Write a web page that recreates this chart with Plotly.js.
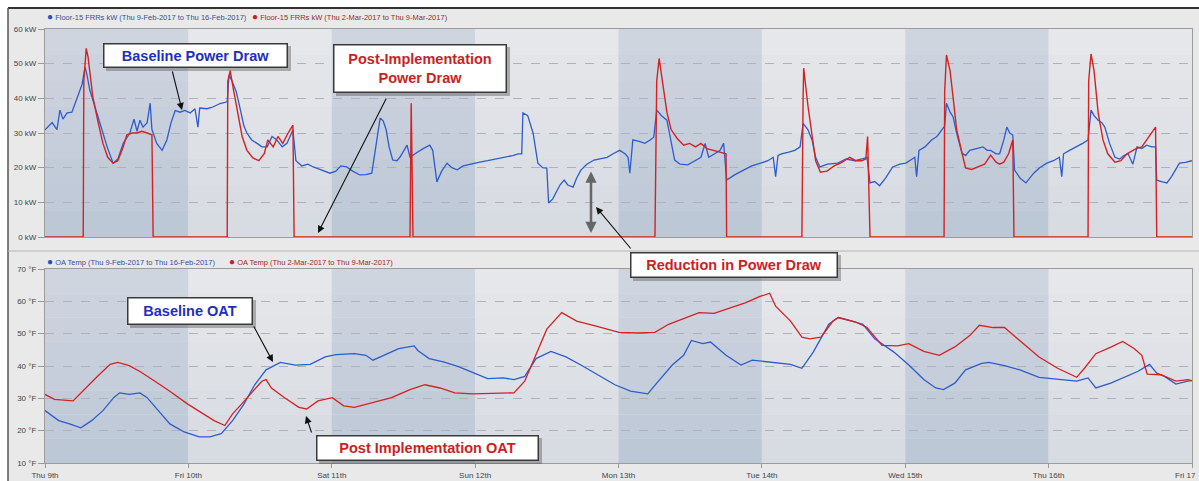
<!DOCTYPE html>
<html><head><meta charset="utf-8">
<script src="https://cdn.plot.ly/plotly-3.0.1.min.js"></script>
<style>html,body{margin:0;padding:0;background:#fff}#chart{width:1199px;height:481px}</style>
</head><body><div id="chart"></div>
<script>
// ---- data (x = hours since Thu 9th 00:00) ----
const dayTicks = [0,24,48,72,96,120,144,168,192];
const dayLabels = ["Thu 9th","Fri 10th","Sat 11th","Sun 12th","Mon 13th","Tue 14th","Wed 15th","Thu 16th","Fri 17"];
const kwTicks = [0,10,20,30,40,50,60];
const kwLabels = ["0 kW","10 kW","20 kW","30 kW","40 kW","50 kW","60 kW"];
const fTicks = [10,20,30,40,50,60,70];
const fLabels = ["10 °F","20 °F","30 °F","40 °F","50 °F","60 °F","70 °F"];

const baseKwHours = [0,1.2,2.0,2.5,3.0,3.7,4.5,5.5,6.2,6.7,7.0,7.5,8.4,9.2,10.4,11.4,12.2,13.1,14.2,14.9,15.4,15.9,16.4,17.1,17.6,17.9,18.7,19.6,20.4,21.1,21.8,22.6,23.4,24.3,25.1,25.6,25.9,27.1,28.1,29.3,30.5,30.8,31.3,32.0,32.6,33.3,33.8,34.6,35.5,36.3,37.2,38.0,38.8,39.7,40.5,41.0,41.5,42.0,43.0,44.0,44.9,46.0,46.9,47.7,48.7,49.5,50.5,51.5,52.7,53.7,54.7,55.4,56.1,56.6,57.1,57.6,58.2,58.9,59.4,60.1,60.6,61.1,61.6,62.4,63.3,64.4,64.9,65.6,66.4,67.3,68.1,69.0,70.0,71.1,72.8,74.1,75.6,77.0,78.3,79.2,79.8,80.0,80.8,81.7,82.5,83.3,84.0,84.3,85.0,85.5,86.2,86.9,87.5,88.4,89.0,89.7,90.7,91.9,92.9,94.1,95.1,96.2,97.1,97.6,97.9,98.4,99.6,100.4,101.3,101.9,102.4,103.2,104.1,104.8,105.4,106.3,107.6,108.8,109.8,110.5,111.1,112.1,113.0,113.6,114.1,115.5,117.0,118.3,119.8,121.0,121.9,122.3,122.7,123.3,124.5,125.5,126.4,126.9,127.7,128.4,129.0,129.7,131.0,132.7,134.1,135.6,136.7,137.6,138.1,138.9,139.7,140.7,141.9,143.1,144.1,145.1,145.6,145.9,146.3,147.3,148.4,149.3,150.1,150.6,150.9,151.5,152.0,152.6,153.5,154.1,154.8,156.0,157.0,157.7,158.3,159.2,159.8,160.5,161.0,161.5,162.0,162.3,163.2,164.2,164.8,165.5,166.5,167.7,168.8,169.8,170.2,170.5,171.5,172.7,173.7,174.6,175.1,175.6,176.3,176.9,177.4,178.2,179.1,179.9,180.6,181.3,182.1,182.8,183.6,184.4,185.3,185.9,186.1,186.9,187.8,188.6,189.3,189.9,190.9,192.0];
const baseKw = [30.9,33,31,36.6,34,35.8,36,40.4,44,49,47,42.4,37,32.8,26,21.3,22.5,27,30,34,30.5,33.7,31.7,33,38.6,31,27,25,28,33,36.5,36,36.5,35.8,37,31.7,37.2,37,37.5,38.5,39,46.7,45,42,37.5,32,30,28,27,26,26,29,28,26,27,29,30.9,22,20.5,21,20.2,19.5,19,18.4,19,20.5,20.2,19,17.9,18,18.4,27,34.3,33.5,31,26,22.2,22,23,25,26.5,23,23.5,24.5,25.5,26.5,25,15.9,19,21.3,20,19.4,20.5,21,21.6,22,22.5,23,23.5,24,24,35.8,35,30,21.3,20,19.9,9.8,11,12.7,15,16.4,15,14.4,17,19.3,21,22.2,22.5,23,24,25,24,23,18.4,28,27.5,27,28,28.8,36.6,35,33.7,28,22.2,21,20.8,22,23,27,23,24,25,27,16.4,18,19.3,20.5,21.3,22,23,17.4,23.5,24,24.5,25,26,32.8,31,28,23,20.2,21,21.3,22.5,22,22.5,23,15.6,16,14.8,17,20.2,21,21.3,22.5,23,17.4,25,26,28,29,30.9,32,38.6,36,34.7,30,24.2,23.5,25,25.5,26,25,25,24,24,28,31.7,30,29.4,19.3,17,15.6,17,18.4,20,21.3,22,23,17.4,24,25,26,27,28,36.6,35,33.7,33,31.7,27,23,22.5,23.5,24,21,26,25.5,26.5,26,26,16.4,16,15.6,17.5,19.5,21.3,21.5,22];

const postKwHours = [0,6.4,6.5,6.9,7.2,8.0,8.9,9.7,10.5,11.4,12.2,13.1,13.7,14.6,15.4,16.2,17.1,17.9,18.1,30.5,30.6,31.0,31.6,32.3,33.0,33.8,34.8,35.8,36.7,37.3,38.2,39.0,39.8,40.7,41.5,41.7,61.1,61.3,61.6,102.1,102.4,102.8,103.4,104.1,104.8,105.8,106.9,107.9,108.9,109.8,110.8,111.8,112.8,113.6,114.0,114.1,126.7,126.9,127.0,127.7,128.4,129.0,129.8,130.9,132.1,133.4,134.7,135.7,136.7,137.4,137.7,138.1,150.5,150.6,150.9,151.5,152.0,152.6,153.5,154.1,155.1,156.3,157.3,158.3,159.2,159.8,160.5,161.3,162.0,162.2,174.6,174.7,175.1,175.6,176.3,177.1,177.9,179.1,180.1,181.1,182.1,182.8,183.6,184.4,185.3,185.9,186.1,192];
const postKw = [0,0,45,54.4,52,40.5,33,27,23,21.3,22,26,29.5,30,30,30.5,30,29.5,0,0,45,48,42,35,29,25,22.8,22,24,28,26,29,27,30,32.3,0,0,38.6,0,0,45,51.5,44,36,31,28.5,26.5,27,26,27,25.5,25,24.5,24.2,24,0,0,40,48.7,38,28.8,22,18.7,19,20.5,21.5,23,22,22,22.5,29,0,0,42,52.5,48,40.4,31,24.2,19.9,19.5,20.2,21,23.6,21.6,21,21.6,24,28,0,0,45,52.8,48,35.7,28,24,21.6,22,24,25,25.6,26,28,30,31.7,0,0];

const baseOatHours = [0,2.3,4.1,6.0,7.8,9.7,11.5,12.5,14.1,15.9,17.1,19.0,20.9,23.3,25.8,27.6,29.5,31.4,33.3,35.1,37.0,39.4,41.9,44.4,46.9,48.7,51.8,53.7,54.9,56.7,59.2,61.8,62.4,64.3,66.7,69.2,71.7,74.1,76.7,78.5,80.3,82.2,84.7,87.2,89.7,92.1,93.7,95.4,98.0,100.9,102.4,105.0,106.9,108.2,110.1,111.4,114.0,116.5,118.4,121.6,124.8,126.7,128.6,131.2,132.8,135.1,136.9,138.9,142.1,144.6,147.1,149.1,150.4,152.3,154.1,156.8,158.0,160.6,163.2,166.4,169.5,172.7,174.6,175.9,178.4,181.0,182.9,184.9,186.1,187.4,189.3,191.3,192];
const baseOat = [26.2,23.1,22.1,20.9,23.1,26.2,30.2,31.7,31.2,31.7,30.2,26.2,22.1,19.6,18.1,18.1,19.1,23.1,28.2,34.2,38.8,41.1,40.3,40.5,42.8,43.5,43.8,43.3,41.8,43.3,45.4,46.2,44.8,42.3,41.3,39.8,37.8,36.1,36.3,35.8,36.8,42.3,44.5,42.8,40.3,37.8,36,34.2,32.2,31.4,34.7,40.3,43.3,47.9,46.9,47.4,43.3,40.3,41.8,41.1,40.5,39.3,44.3,52.9,55,53.9,52.9,48.4,44.3,40.3,35.8,33.2,32.7,34.7,38.8,40.8,41.1,40.1,38.8,36.5,35.8,35.3,36.3,33.2,34.7,36.8,38.3,40.5,37.8,36.8,34.4,35.3,35.5];

const postOatHours = [0,1.6,4.7,6.0,8.5,10.9,12.2,14.1,15.9,18.4,20.9,23.9,26.4,28.3,30.1,31.4,32.9,34.8,36.3,37.0,37.9,40.1,42.5,43.8,45.7,48.1,50.0,51.8,54.9,58.0,61.1,63.6,66.1,68.6,71.6,78.5,80.3,82.2,84.0,86.5,89.0,92.1,94.6,96.1,99.2,102.1,104.4,106.9,109.5,112.0,114.6,117.2,119.7,121.3,122.3,124.8,126.7,128.0,129.9,131.9,132.8,135.7,137.6,140.1,142.7,144.6,147.1,149.7,152.3,154.8,156.4,158.7,160.6,163.2,166.4,169.5,172.7,174.0,175.9,178.5,180.4,182.3,183.6,184.5,186.8,189.3,191.3,192];
const postOat = [31.2,29.7,29.2,31.7,36.3,40.5,41.1,40.1,38.3,35.3,32.2,28.2,25.2,23.1,21.6,25.2,28.2,32.2,35.3,35.8,33.2,30.2,27.2,26.7,29.2,30.2,27.7,27.2,28.7,30.2,32.7,34.2,33.2,31.7,31.4,31.7,35.3,43.3,51.4,56.5,53.9,52.4,51,50.4,50.2,50.4,52.9,54.6,56.5,56.3,58,59.5,61.5,62.5,58.5,53.9,48.9,48.4,48.9,53.9,55,53.6,51.9,46.4,46.2,46.9,44.5,43.3,45.9,49.4,52.6,51.9,51.9,47.9,42.8,39.3,36.5,39.3,43.8,45.9,47.6,45.4,43.3,37.5,37.3,35.3,35.8,35.5];

// ---- layout helpers ----
const W = 1199, H = 481;
const px = x => x / W;
const py = y => 1 - y / H;
const FONT = "Liberation Sans, Arial, sans-serif";
const BLUE = "#2d5ccc", RED = "#d42222";

const traces = [
  {x: baseKwHours, y: baseKw, xaxis: "x", yaxis: "y", mode: "lines", line: {color: BLUE, width: 1.3}},
  {x: postKwHours, y: postKw, xaxis: "x", yaxis: "y", mode: "lines", line: {color: RED, width: 1.4}},
  {x: baseOatHours, y: baseOat, xaxis: "x2", yaxis: "y2", mode: "lines", line: {color: BLUE, width: 1.3}},
  {x: postOatHours, y: postOat, xaxis: "x2", yaxis: "y2", mode: "lines", line: {color: RED, width: 1.3}}
];

// background day bands with a vertical gradient
function mix(a, b, t) {
  const pa = a.match(/\w\w/g).map(h => parseInt(h, 16));
  const pb = b.match(/\w\w/g).map(h => parseInt(h, 16));
  return "rgb(" + pa.map((v, i) => Math.round(v + (pb[i] - v) * t)).join(",") + ")";
}
const shapes = [];
const N = 8;
["", "2"].forEach(ax => {
  for (let d = 0; d < 8; d++) {
    const dark = d % 2 === 0;
    const top = dark ? "d0d6e0" : "e7e8eb";
    const bot = dark ? "bcc7d6" : "d6dae1";
    for (let k = 0; k < N; k++) {
      shapes.push({type: "rect", xref: "x" + ax, yref: "y" + ax + " domain",
        x0: dayTicks[d], x1: dayTicks[d + 1], y0: 1 - (k + 1) / N, y1: 1 - k / N,
        fillcolor: mix(top, bot, (k + 0.5) / N), line: {width: 0}, layer: "below"});
    }
  }
});
// frame: white margin, dark top line, panel separator
shapes.push({type: "rect", xref: "paper", yref: "paper", x0: 0, x1: 1, y0: py(8), y1: 1, fillcolor: "#ffffff", line: {width: 0}, layer: "below"});
shapes.push({type: "rect", xref: "paper", yref: "paper", x0: 0, x1: px(8), y0: 0, y1: 1, fillcolor: "#ffffff", line: {width: 0}, layer: "below"});
shapes.push({type: "line", xref: "paper", yref: "paper", x0: px(8), x1: 1, y0: py(8), y1: py(8), line: {color: "#333", width: 2}});
shapes.push({type: "line", xref: "paper", yref: "paper", x0: px(8), x1: px(8), y0: 0, y1: py(8), line: {color: "#555", width: 1.5}});
shapes.push({type: "line", xref: "paper", yref: "paper", x0: px(8), x1: 1, y0: py(251), y1: py(251), line: {color: "#b4b4b4", width: 1}});

// callout boxes
const boxes = [
  {text: "<b>Baseline Power Draw</b>", color: "#1e2fbf", x: 103, y: 43, w: 185, h: 25},
  {text: "<b>Post-Implementation<br>Power Draw</b>", color: "#cc1f1f", x: 333, y: 44, w: 174, h: 49},
  {text: "<b>Reduction in Power Draw</b>", color: "#cc1f1f", x: 630, y: 252, w: 208, h: 26},
  {text: "<b>Baseline OAT</b>", color: "#1e2fbf", x: 127, y: 297, w: 126, h: 28},
  {text: "<b>Post Implementation OAT</b>", color: "#cc1f1f", x: 316, y: 435, w: 223, h: 26}
];
const annotations = [];
boxes.forEach(b => {
  shapes.push({type: "rect", xref: "paper", yref: "paper", x0: px(b.x + 3), x1: px(b.x + b.w + 3), y0: py(b.y + b.h + 3), y1: py(b.y + 3),
    fillcolor: "rgba(60,60,60,0.35)", line: {width: 0}, layer: "above"});
  annotations.push({xref: "paper", yref: "paper", x: px(b.x), y: py(b.y), xanchor: "left", yanchor: "top",
    width: b.w - 3, height: b.h - 3, text: b.text, showarrow: false, align: "center", valign: "middle",
    bgcolor: "#ffffff", bordercolor: "#3a3a3a", borderwidth: 1.5, borderpad: 0,
    font: {family: FONT, size: 14.5, color: b.color}});
});

// arrows: [tipX, tipY, tailX, tailY]
const arrows = [[182, 110, 172, 70], [318, 233, 387, 97], [596, 207, 632, 250], [273, 362, 253, 325], [306, 416, 312, 434]];
arrows.forEach(a => annotations.push({xref: "paper", yref: "paper", x: px(a[0]), y: py(a[1]),
  ax: a[2] - a[0], ay: a[3] - a[1], text: "", showarrow: true, arrowhead: 2, arrowsize: 1.3, arrowwidth: 1.1, arrowcolor: "#111"}));
// double arrow
annotations.push({xref: "paper", yref: "paper", x: px(591), y: py(233), ax: 0, ay: -63, text: "", showarrow: true,
  arrowside: "end+start", arrowhead: 2, startarrowhead: 2, arrowsize: 0.9, startarrowsize: 0.9, arrowwidth: 2.5, arrowcolor: "#666"});

// legends
const legends = [
  {x: 45, y: 17, c: "#2050c8", t: "Floor-15 FRRs kW (Thu 9-Feb-2017 to Thu 16-Feb-2017)", tc: "#34509a"},
  {x: 250, y: 17, c: "#c81e1e", t: "Floor-15 FRRs kW (Thu 2-Mar-2017 to Thu 9-Mar-2017)", tc: "#a02828"},
  {x: 45, y: 261, c: "#2050c8", t: "OA Temp (Thu 9-Feb-2017 to Thu 16-Feb-2017)", tc: "#34509a"},
  {x: 227, y: 261, c: "#c81e1e", t: "OA Temp (Thu 2-Mar-2017 to Thu 9-Mar-2017)", tc: "#a02828"}
];
legends.forEach(l => annotations.push({xref: "paper", yref: "paper", x: px(l.x), y: py(l.y), xanchor: "left", yanchor: "middle",
  showarrow: false, text: '<span style="color:' + l.c + ';font-size:10px">●</span> ' + l.t,
  font: {family: FONT, size: 7.5, color: l.tc}}));

const tickFont = {family: FONT, size: 8, color: "#444"};
// last day label sits at the right edge: draw it right-aligned so it stays inside the picture
const xTickText = dayLabels.map((t, i) => i === dayLabels.length - 1 ? "" : t);
annotations.push({xref: "paper", yref: "paper", x: px(1198), y: py(475), xanchor: "right", yanchor: "middle",
  showarrow: false, text: dayLabels[dayLabels.length - 1], font: tickFont});

const xd = [px(45), px(1192)];
const layout = {
  width: W, height: H, margin: {l: 0, r: 0, t: 0, b: 0},
  paper_bgcolor: "#e9e9e9", plot_bgcolor: "#e2e4e8",
  showlegend: false, hovermode: false,
  xaxis: {domain: xd, range: [0, 192], anchor: "y", tickvals: dayTicks, showticklabels: false, ticks: "",
    showgrid: false, zeroline: false, showline: true, mirror: true, linecolor: "#9c9c9c"},
  yaxis: {domain: [py(237), py(29)], range: [0, 60], anchor: "x", tickvals: kwTicks, ticktext: kwLabels,
    ticks: "outside", ticklen: 6, tickcolor: "#999", tickfont: tickFont, zeroline: false,
    showgrid: true, gridcolor: "#aeb3bb", griddash: "dash", gridwidth: 1,
    showline: true, mirror: true, linecolor: "#9c9c9c"},
  xaxis2: {domain: xd, range: [0, 192], anchor: "y2", tickvals: dayTicks, ticktext: xTickText,
    ticks: "outside", ticklen: 4, tickcolor: "#999", tickfont: tickFont,
    showgrid: false, zeroline: false, showline: true, mirror: true, linecolor: "#9c9c9c"},
  yaxis2: {domain: [py(463), py(269)], range: [10, 70], anchor: "x2", tickvals: fTicks, ticktext: fLabels,
    ticks: "outside", ticklen: 6, tickcolor: "#999", tickfont: tickFont, zeroline: false,
    showgrid: true, gridcolor: "#aeb3bb", griddash: "dash", gridwidth: 1,
    showline: true, mirror: true, linecolor: "#9c9c9c"},
  shapes: shapes,
  annotations: annotations
};
Plotly.newPlot("chart", traces, layout, {displayModeBar: false, staticPlot: true});
</script></body></html>
